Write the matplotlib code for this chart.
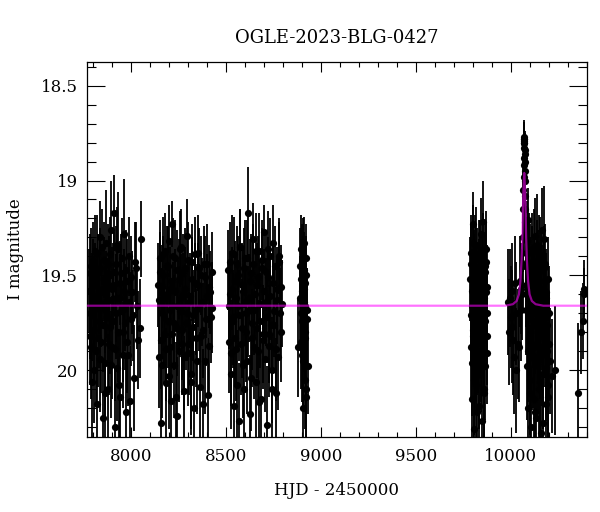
import matplotlib
matplotlib.use("Agg")
import matplotlib.pyplot as plt
from matplotlib.ticker import MultipleLocator, FuncFormatter

# ---------------- data ----------------
title = "OGLE-2023-BLG-0427"
xlabel = "HJD - 2450000"
ylabel = "I magnitude"

s1_t = [7782, 7785, 7789, 7794, 7798, 7803, 7807, 7812, 7816, 7821,
        7825, 7830, 7835, 7839, 7844, 7849, 7853, 7858, 7863, 7867,
        7872, 7877, 7882, 7886, 7891, 7896, 7901, 7906, 7911, 7915,
        7920, 7925, 7930, 7935, 7941, 7946, 7951, 7957, 7962, 7968,
        7974, 7980, 7986, 7993, 8000, 8008, 8017, 8027, 8040, 8055]
s1_m = [19.58, 19.82, 19.45, 19.71, 20.06, 19.52, 19.66, 19.37, 19.90, 19.61,
        20.18, 19.48, 19.74, 19.30, 19.85, 19.57, 20.25, 19.42, 19.68, 19.96,
        19.33, 19.63, 20.10, 19.50, 19.77, 19.26, 19.88, 19.55, 19.17, 20.30,
        19.44, 19.70, 19.99, 19.36, 19.62, 20.14, 19.49, 19.80, 19.28, 19.67,
        20.22, 19.53, 19.92, 19.40, 19.73, 19.59, 20.04, 19.46, 19.84, 19.31]
s1_e = [0.22, 0.26, 0.20, 0.24, 0.29, 0.21, 0.23, 0.19, 0.27, 0.22,
        0.30, 0.20, 0.25, 0.19, 0.27, 0.21, 0.31, 0.20, 0.23, 0.28,
        0.28, 0.22, 0.29, 0.21, 0.25, 0.26, 0.27, 0.22, 0.20, 0.31,
        0.20, 0.24, 0.28, 0.30, 0.23, 0.29, 0.21, 0.26, 0.29, 0.23,
        0.30, 0.22, 0.27, 0.21, 0.25, 0.22, 0.28, 0.24, 0.26, 0.20]
s1b_t = [7783.5, 7787, 7791, 7796, 7800, 7805, 7809, 7814, 7818, 7823,
         7827, 7832, 7837, 7841, 7846, 7851, 7855, 7860, 7865, 7869,
         7874, 7879, 7884, 7888, 7893, 7898, 7903, 7908, 7913, 7917,
         7922, 7927, 7932, 7938, 7943, 7948, 7954, 7959, 7965, 7971,
         7977, 7983, 7989, 7996, 8004, 8012, 8022, 8033, 8047]
s1b_m = [19.70, 19.49, 19.88, 19.61, 19.42, 19.79, 20.00, 19.55, 19.67, 19.38,
         19.83, 19.59, 19.46, 19.94, 19.65, 19.35, 19.76, 19.52, 20.12, 19.60,
         19.72, 19.44, 19.86, 19.63, 19.39, 19.97, 19.57, 19.74, 19.48, 19.89,
         19.62, 19.34, 19.80, 20.08, 19.54, 19.69, 19.41, 19.92, 19.58, 19.75,
         19.47, 19.85, 19.64, 20.16, 19.51, 19.71, 19.43, 19.66, 19.78]
s1b_e = [0.24, 0.21, 0.27, 0.23, 0.20, 0.26, 0.28, 0.22, 0.24, 0.20,
         0.26, 0.22, 0.21, 0.28, 0.23, 0.20, 0.25, 0.22, 0.29, 0.23,
         0.25, 0.21, 0.27, 0.23, 0.20, 0.28, 0.22, 0.25, 0.21, 0.27,
         0.23, 0.20, 0.26, 0.29, 0.22, 0.24, 0.21, 0.28, 0.22, 0.25,
         0.21, 0.27, 0.23, 0.29, 0.22, 0.24, 0.21, 0.23, 0.26]

s2_t = [8146, 8150, 8155, 8160, 8164, 8169, 8174, 8179, 8184, 8189,
        8194, 8199, 8204, 8209, 8214, 8219, 8225, 8230, 8235, 8241,
        8246, 8252, 8257, 8263, 8268, 8274, 8280, 8285, 8291, 8297,
        8303, 8309, 8315, 8321, 8327, 8333, 8339, 8345, 8352, 8358,
        8365, 8371, 8378, 8385, 8392, 8399, 8407, 8414, 8422, 8430]
s2_m = [19.55, 19.93, 19.48, 20.28, 19.70, 19.39, 19.81, 19.62, 20.07, 19.45,
        19.74, 19.32, 19.88, 19.57, 20.16, 19.23, 19.66, 19.97, 19.41, 19.78,
        20.24, 19.52, 19.69, 19.35, 19.86, 19.60, 20.11, 19.46, 19.75, 19.29,
        19.91, 19.64, 20.02, 19.43, 19.71, 20.20, 19.54, 19.83, 19.38, 19.67,
        20.09, 19.50, 19.79, 19.44, 19.95, 19.61, 20.13, 19.56, 19.72, 19.48]
s2_e = [0.22, 0.27, 0.21, 0.31, 0.24, 0.20, 0.26, 0.23, 0.29, 0.21,
        0.25, 0.19, 0.27, 0.22, 0.30, 0.12, 0.23, 0.28, 0.20, 0.25,
        0.31, 0.21, 0.24, 0.20, 0.27, 0.22, 0.29, 0.21, 0.25, 0.19,
        0.28, 0.23, 0.29, 0.20, 0.24, 0.30, 0.21, 0.26, 0.20, 0.23,
        0.29, 0.21, 0.25, 0.20, 0.28, 0.22, 0.30, 0.22, 0.24, 0.21]
s2b_t = [8148, 8152.5, 8157.5, 8162, 8166.5, 8171.5, 8176.5, 8181.5, 8186.5, 8191.5,
         8196.5, 8201.5, 8206.5, 8211.5, 8216.5, 8222, 8227.5, 8232.5, 8238, 8243.5,
         8249, 8254.5, 8260, 8265.5, 8271, 8277, 8282.5, 8288, 8294, 8300,
         8306, 8312, 8318, 8324, 8330, 8336, 8342, 8348.5, 8355, 8361.5,
         8368, 8374.5, 8381.5, 8388.5, 8395.5, 8403, 8410.5, 8418, 8426]
s2b_m = [19.63, 19.41, 19.84, 19.56, 19.97, 19.50, 19.72, 19.37, 19.89, 19.60,
         19.45, 20.03, 19.68, 19.53, 19.81, 19.40, 19.75, 19.58, 20.14, 19.47,
         19.66, 19.90, 19.36, 19.62, 19.79, 19.49, 19.93, 19.57, 19.70, 19.42,
         19.86, 19.61, 20.06, 19.52, 19.77, 19.39, 19.68, 19.95, 19.55, 19.46,
         19.82, 19.64, 20.18, 19.51, 19.73, 19.44, 19.87, 19.59, 19.67]
s2b_e = [0.23, 0.20, 0.26, 0.22, 0.28, 0.21, 0.25, 0.20, 0.27, 0.23,
         0.21, 0.28, 0.24, 0.22, 0.26, 0.20, 0.25, 0.22, 0.29, 0.21,
         0.24, 0.27, 0.20, 0.23, 0.26, 0.21, 0.28, 0.22, 0.25, 0.20,
         0.27, 0.23, 0.28, 0.22, 0.25, 0.20, 0.24, 0.28, 0.22, 0.21,
         0.26, 0.23, 0.29, 0.22, 0.25, 0.21, 0.27, 0.22, 0.24]

s3_t = [8514, 8519, 8524, 8529, 8534, 8539, 8545, 8550, 8555, 8561,
        8566, 8572, 8577, 8583, 8588, 8594, 8599, 8605, 8611, 8617,
        8622, 8628, 8634, 8640, 8645, 8651, 8657, 8663, 8668, 8674,
        8680, 8685, 8691, 8697, 8703, 8709, 8715, 8720, 8726, 8732,
        8738, 8744, 8750, 8756, 8762, 8768, 8774, 8781, 8788, 8795]
s3_m = [19.47, 19.85, 19.60, 20.02, 19.38, 19.72, 20.19, 19.53, 19.89, 19.44,
        19.66, 20.27, 19.35, 19.78, 19.58, 20.10, 19.41, 19.70, 19.95, 19.17,
        19.62, 20.23, 19.49, 19.83, 19.31, 19.68, 20.06, 19.55, 19.90, 19.37,
        19.74, 20.15, 19.46, 19.81, 19.27, 19.64, 20.29, 19.51, 19.87, 19.40,
        19.76, 20.00, 19.33, 19.69, 20.12, 19.57, 19.93, 19.43, 19.80, 19.65]
s3_e = [0.21, 0.27, 0.23, 0.29, 0.20, 0.25, 0.30, 0.21, 0.27, 0.20,
        0.24, 0.31, 0.20, 0.26, 0.22, 0.29, 0.20, 0.24, 0.28, 0.24,
        0.23, 0.31, 0.21, 0.26, 0.19, 0.24, 0.29, 0.22, 0.27, 0.20,
        0.25, 0.30, 0.21, 0.26, 0.14, 0.23, 0.31, 0.21, 0.27, 0.20,
        0.25, 0.28, 0.20, 0.24, 0.29, 0.22, 0.28, 0.21, 0.26, 0.23]
s3b_t = [8516.5, 8521.5, 8526.5, 8531.5, 8536.5, 8542, 8547.5, 8552.5, 8558, 8563.5,
         8569, 8574.5, 8580, 8585.5, 8591, 8596.5, 8602, 8608, 8614, 8619.5,
         8625, 8631, 8637, 8642.5, 8648, 8654, 8660, 8665.5, 8671, 8677,
         8682.5, 8688, 8694, 8700, 8706, 8712, 8717.5, 8723, 8729, 8735,
         8741, 8747, 8753, 8759, 8765, 8771, 8777.5, 8784.5, 8791.5]
s3b_m = [19.66, 19.43, 19.91, 19.57, 19.74, 19.39, 19.83, 19.62, 20.08, 19.50,
         19.71, 19.35, 19.86, 19.55, 19.97, 19.46, 19.64, 19.80, 19.41, 19.69,
         19.53, 20.04, 19.75, 19.44, 19.88, 19.60, 19.37, 19.78, 19.51, 20.17,
         19.65, 19.42, 19.84, 19.58, 19.94, 19.48, 19.72, 19.36, 19.81, 19.61,
         20.10, 19.54, 19.76, 19.45, 19.89, 19.63, 19.40, 19.70, 19.56]
s3b_e = [0.23, 0.21, 0.28, 0.22, 0.25, 0.20, 0.26, 0.23, 0.29, 0.21,
         0.24, 0.20, 0.27, 0.22, 0.28, 0.21, 0.23, 0.26, 0.20, 0.24,
         0.22, 0.28, 0.25, 0.21, 0.27, 0.23, 0.20, 0.26, 0.22, 0.29,
         0.23, 0.21, 0.26, 0.22, 0.28, 0.21, 0.24, 0.20, 0.26, 0.23,
         0.29, 0.22, 0.25, 0.21, 0.27, 0.23, 0.20, 0.24, 0.22]

s4_t = [8880, 8893, 8896, 8898, 8901, 8903, 8905, 8907, 8909, 8911,
        8913, 8915, 8917, 8919, 8921, 8924, 8927, 8930,
        8892, 8895, 8897, 8900, 8902, 8904, 8906, 8908, 8910, 8912,
        8914, 8916, 8918, 8920, 8922, 8926]
s4_m = [19.88, 19.45, 19.70, 19.36, 19.92, 19.58, 20.20, 19.49, 19.77, 19.33,
        19.64, 20.05, 19.54, 19.83, 19.41, 20.14, 19.68, 19.98,
        19.62, 19.52, 19.85, 19.43, 19.74, 19.60, 19.39, 19.95, 19.57, 19.71,
        19.47, 19.80, 19.66, 20.10, 19.50, 19.73]
s4_e = [0.26, 0.20, 0.23, 0.18, 0.25, 0.21, 0.27, 0.20, 0.24, 0.14,
        0.22, 0.26, 0.21, 0.24, 0.18, 0.27, 0.22, 0.25,
        0.22, 0.21, 0.25, 0.20, 0.24, 0.22, 0.19, 0.26, 0.21, 0.24,
        0.20, 0.25, 0.22, 0.27, 0.21, 0.23]

s5_t = [9787, 9789, 9792, 9794, 9797, 9799, 9802, 9804, 9807, 9809,
        9812, 9814, 9817, 9820, 9822, 9825, 9828, 9831, 9834, 9837,
        9840, 9843, 9846, 9849, 9852, 9855, 9858, 9861, 9864, 9867,
        9870, 9873, 9876]
s5_m = [19.52, 19.88, 19.38, 20.15, 19.66, 19.23, 19.79, 20.31, 19.47, 19.95,
        19.60, 20.08, 19.34, 19.73, 20.22, 19.55, 19.85, 19.42, 20.02, 19.64,
        19.28, 19.90, 20.27, 19.50, 19.22, 19.76, 20.12, 19.45, 19.98, 19.59,
        19.36, 19.82, 19.70]
s5_e = [0.22, 0.27, 0.20, 0.30, 0.24, 0.17, 0.26, 0.32, 0.21, 0.28,
        0.23, 0.29, 0.20, 0.25, 0.31, 0.22, 0.27, 0.21, 0.29, 0.23,
        0.19, 0.27, 0.31, 0.22, 0.22, 0.26, 0.30, 0.21, 0.28, 0.23,
        0.20, 0.26, 0.24]
s5b_t = [9788, 9790.5, 9793, 9795.5, 9798, 9800.5, 9803, 9805.5, 9808, 9810.5,
         9813, 9815.5, 9818.5, 9821, 9823.5, 9826.5, 9829.5, 9832.5, 9835.5, 9838.5,
         9841.5, 9844.5, 9847.5, 9850.5, 9853.5, 9856.5, 9859.5, 9862.5, 9865.5, 9868.5,
         9871.5, 9874.5]
s5b_m = [19.71, 19.44, 19.96, 19.58, 19.33, 19.82, 19.63, 20.05, 19.49, 19.75,
         19.38, 19.90, 19.60, 19.46, 19.86, 19.68, 20.19, 19.53, 19.78, 19.41,
         19.94, 19.57, 19.69, 19.37, 19.84, 19.62, 20.10, 19.48, 19.74, 19.43,
         19.91, 19.56]
s5b_e = [0.24, 0.21, 0.28, 0.22, 0.20, 0.26, 0.23, 0.29, 0.21, 0.25,
         0.20, 0.27, 0.23, 0.21, 0.27, 0.24, 0.30, 0.22, 0.25, 0.20,
         0.28, 0.22, 0.24, 0.20, 0.27, 0.23, 0.29, 0.21, 0.25, 0.21,
         0.27, 0.22]

s6_t = [9982, 9997, 9999, 10004, 10011, 10021, 10029, 10035, 10047, 10052,
        10058, 10062, 10064, 10066, 10067, 10068, 10069, 10070, 10071, 10072,
        10073, 10074, 10076, 10078,
        10080, 10083, 10086, 10089, 10092, 10095, 10098, 10101, 10104, 10107,
        10110, 10113, 10116, 10119, 10122, 10125, 10128, 10131, 10134, 10137,
        10140, 10143, 10146, 10149, 10152, 10155, 10158, 10161, 10164, 10167,
        10170, 10173, 10176, 10179, 10182, 10185, 10189, 10193, 10197, 10201,
        10217, 10230]
s6_m = [19.64, 19.62, 19.72, 19.77, 19.84, 19.54, 20.00, 19.86, 19.53, 19.68,
        19.60, 19.45, 19.30, 19.05, 18.92, 18.83, 18.78, 18.77, 18.80, 18.86,
        18.95, 19.08, 19.22, 19.38,
        19.55, 19.98, 19.32, 20.20, 19.21, 19.70, 20.05, 19.45, 19.86, 20.30,
        19.60, 19.38, 19.92, 20.15, 19.50, 19.76, 19.29, 20.25, 19.65, 19.34,
        19.95, 19.48, 20.10, 19.72, 19.40, 19.88, 20.33, 19.57, 19.26, 19.82,
        20.02, 19.46, 19.31, 19.78, 20.18, 19.62, 19.90, 19.52, 20.08, 19.70,
        20.03, 20.00]
s6_e = [0.28, 0.26, 0.27, 0.30, 0.29, 0.25, 0.33, 0.29, 0.24, 0.27,
        0.24, 0.22, 0.18, 0.14, 0.12, 0.10, 0.09, 0.09, 0.10, 0.11,
        0.12, 0.14, 0.17, 0.19,
        0.22, 0.28, 0.21, 0.31, 0.17, 0.25, 0.29, 0.22, 0.27, 0.32,
        0.24, 0.21, 0.28, 0.30, 0.22, 0.26, 0.20, 0.31, 0.24, 0.27,
        0.28, 0.22, 0.30, 0.25, 0.21, 0.27, 0.32, 0.23, 0.22, 0.26,
        0.29, 0.22, 0.28, 0.26, 0.30, 0.24, 0.27, 0.22, 0.29, 0.25,
        0.30, 0.34]
s6b_t = [9990, 10007, 10016, 10025, 10040, 10055,
         10065, 10066.5, 10067.5, 10068.5, 10069.5, 10070.5, 10071.5, 10072.5, 10073.5, 10075,
         10081.5, 10084.5, 10087.5, 10090.5, 10093.5, 10096.5, 10099.5, 10102.5, 10105.5, 10108.5,
         10111.5, 10114.5, 10117.5, 10120.5, 10123.5, 10126.5, 10129.5, 10132.5, 10135.5, 10138.5,
         10141.5, 10144.5, 10147.5, 10150.5, 10153.5, 10156.5, 10159.5, 10162.5, 10165.5, 10168.5,
         10171.5, 10174.5, 10177.5, 10180.5, 10183.5, 10187, 10191, 10195, 10199, 10205]
s6b_m = [19.80, 19.58, 19.93, 19.70, 19.88, 19.57,
         19.15, 18.98, 18.88, 18.80, 18.79, 18.78, 18.84, 18.90, 19.00, 19.15,
         19.68, 19.43, 19.90, 19.60, 19.37, 19.84, 19.52, 20.12, 19.66, 19.45,
         19.93, 19.58, 19.74, 19.35, 19.88, 20.22, 19.55, 19.70, 19.42, 19.97,
         19.63, 19.80, 19.38, 20.06, 19.57, 19.75, 19.47, 19.92, 19.61, 20.28,
         19.53, 19.83, 19.44, 19.69, 19.99, 19.59, 19.76, 20.14, 19.86, 19.95]
s6b_e = [0.28, 0.25, 0.30, 0.27, 0.29, 0.24,
         0.16, 0.13, 0.11, 0.10, 0.09, 0.09, 0.10, 0.11, 0.13, 0.16,
         0.24, 0.21, 0.27, 0.23, 0.20, 0.26, 0.22, 0.29, 0.24, 0.21,
         0.28, 0.22, 0.25, 0.20, 0.27, 0.31, 0.22, 0.25, 0.21, 0.28,
         0.23, 0.26, 0.20, 0.29, 0.22, 0.25, 0.21, 0.27, 0.23, 0.31,
         0.22, 0.26, 0.21, 0.24, 0.28, 0.23, 0.25, 0.30, 0.27, 0.28]

s7_t = [10355, 10370, 10378, 10382, 10385]
s7_m = [20.12, 19.80, 19.74, 19.57, 19.60]
s7_e = [0.37, 0.22, 0.20, 0.15, 0.14]

model_t = [7770, 9970, 10010, 10030, 10042, 10050, 10056, 10060, 10063, 10066,
           10068, 10070, 10072, 10074, 10077, 10080, 10084, 10090, 10098,
           10110, 10130, 10170, 10400]
model_m = [19.66, 19.66, 19.652, 19.635, 19.60, 19.53, 19.42, 19.30, 19.15, 19.05,
           19.00, 18.96, 19.00, 19.05, 19.15, 19.30, 19.42, 19.53, 19.60,
           19.635, 19.652, 19.66, 19.66]

xlim = (7770, 10400)
ylim = (20.352, 18.375)

# ---------------- plot ----------------
plt.rcParams['font.family'] = ['DejaVu Serif']
fig = plt.figure(figsize=(6.0, 5.12), dpi=100)
ax = fig.add_axes([0.145, 0.1465, 0.8333, 0.7325])

seasons = [(s1_t, s1_m, s1_e), (s1b_t, s1b_m, s1b_e),
           (s2_t, s2_m, s2_e), (s2b_t, s2b_m, s2b_e),
           (s3_t, s3_m, s3_e), (s3b_t, s3b_m, s3b_e),
           (s4_t, s4_m, s4_e),
           (s5_t, s5_m, s5_e), (s5b_t, s5b_m, s5b_e),
           (s6_t, s6_m, s6_e), (s6b_t, s6b_m, s6b_e),
           (s7_t, s7_m, s7_e)]
for t, m, e in seasons:
    ax.errorbar(t, m, yerr=e, fmt='o', color='black', ecolor='black', ms=5.2, mew=0,
                elinewidth=1.3, capsize=3.5, capthick=1.0, zorder=2)

ax.plot(model_t, model_m, color='#ff00ff', lw=1.6, alpha=0.55, zorder=3)

ax.set_xlim(*xlim)
ax.set_ylim(*ylim)
ax.xaxis.set_major_locator(MultipleLocator(500))
ax.xaxis.set_minor_locator(MultipleLocator(100))
ax.yaxis.set_major_locator(MultipleLocator(0.5))
ax.yaxis.set_minor_locator(MultipleLocator(0.1))
ax.yaxis.set_major_formatter(FuncFormatter(lambda v, p: f"{v:g}"))

ax.tick_params(axis='both', which='both', direction='in', top=True, right=True,
               labelsize=12, width=0.8)
ax.tick_params(axis='x', which='major', length=7, pad=8)
ax.tick_params(axis='x', which='minor', length=3.5)
ax.tick_params(axis='y', which='major', length=13, pad=6.5)
ax.tick_params(axis='y', which='minor', length=6.5)
for s in ax.spines.values():
    s.set_linewidth(0.9)

ax.set_title(title, fontsize=13, pad=14)
ax.set_xlabel(xlabel, fontsize=12, labelpad=12)
ax.set_ylabel(ylabel, fontsize=12, labelpad=12)

fig.savefig("out.png", dpi=100)
